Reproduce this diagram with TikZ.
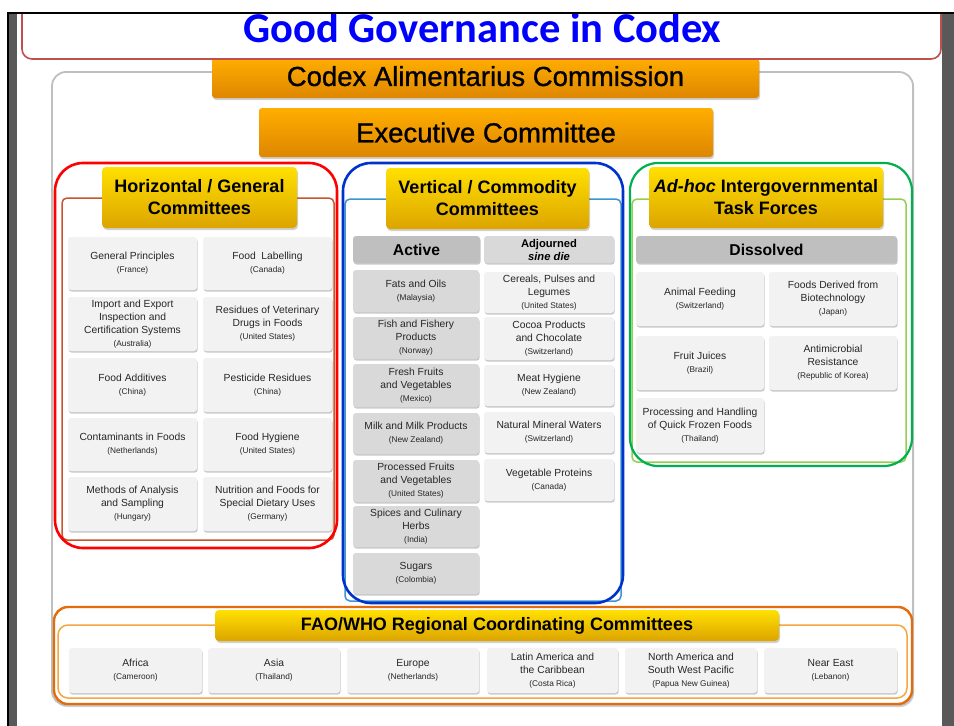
\documentclass[tikz,border=0pt]{standalone}
\usepackage{fontspec}
\setmainfont{Liberation Sans}
\newfontfamily\titlefont{Carlito}
\newfontfamily\heavyfont[FakeBold=1.0]{Liberation Sans}
\usetikzlibrary{shadows}
\definecolor{cellL}{HTML}{F2F2F2}
\definecolor{cellM}{HTML}{D9D9D9}
\definecolor{cellD}{HTML}{BFBFBF}
\definecolor{txt}{HTML}{262626}
\definecolor{goldT}{HTML}{FFE000}
\definecolor{goldB}{HTML}{DCA400}
\definecolor{orT}{HTML}{FFAE00}
\definecolor{orB}{HTML}{DE8600}
\definecolor{frameG}{HTML}{595959}
\definecolor{titleR}{HTML}{C0504D}
\definecolor{hRed}{HTML}{FF0000}
\definecolor{hRedIn}{HTML}{C8562E}
\definecolor{vBlue}{HTML}{0033CC}
\definecolor{vBlueIn}{HTML}{3D94D0}
\definecolor{aGreen}{HTML}{00B050}
\definecolor{aGreenIn}{HTML}{92D050}
\definecolor{rOr}{HTML}{E46C0A}
\definecolor{rOrIn}{HTML}{F4A641}
\definecolor{mainGrey}{HTML}{BFBFBF}
\definecolor{titleBlue}{HTML}{0000FF}
\newcommand\Cell[7]{\node[#2, minimum width={(#5-#3)*1pt}, minimum height={(#6-#4)*1pt}] (#1) at ({(#3+#5)/2},{(#4+#6)/2}) {#7};}
\newcommand\ctry[1]{\\{\fontsize{8.3}{13}\selectfont(#1)}}
\tikzset{
  cellbase/.style={draw=none, rounded corners=3pt, align=center, inner sep=1pt, text=txt,
    font=\fontsize{10.3}{13}\selectfont,
    drop shadow={shadow xshift=0.7pt, shadow yshift=-1.6pt, opacity=0.35, fill=black!60}},
  cell/.style={cellbase, fill=cellL},
  cellm/.style={cellbase, fill=cellM},
  bar/.style={cellbase, fill=cellD, font=\bfseries\fontsize{15.7}{17}\selectfont, text=black},
  barl/.style={cellbase, fill=cellM, font=\bfseries\fontsize{11.2}{13}\selectfont, text=black},
  header/.style={rounded corners=4pt, top color=goldT, bottom color=goldB, align=center, inner sep=1pt,
    font=\bfseries\fontsize{18}{22}\selectfont, text=black,
    drop shadow={shadow xshift=1pt, shadow yshift=-2pt, opacity=0.3, fill=black!60}},
  orbox/.style={rounded corners=3pt, top color=orT, bottom color=orB, align=center, inner sep=1pt, text=black,
    drop shadow={shadow xshift=1pt, shadow yshift=-2pt, opacity=0.3, fill=black!60}},
  inbox/.style={line width=1.5pt, rounded corners=5pt, fill=white},
  outbox/.style={line width=2.6pt, rounded corners=28pt},
}
\begin{document}
\begin{tikzpicture}[x=1pt, y=-1pt]
\useasboundingbox (0,0) rectangle (954,726);
\fill[white] (0,0) rectangle (954,726);
% main grey box
\draw[mainGrey, line width=1.8pt, rounded corners=14pt, fill=white,
  drop shadow={shadow xshift=1.2pt, shadow yshift=-2pt, opacity=0.35, fill=black!50}]
  (52,72) rectangle (913,705);
% Codex box
\Cell{codex}{orbox, font=\heavyfont\fontsize{27.5}{30}\selectfont}{212}{58}{759}{98}{\raisebox{4pt}{Codex Alimentarius Commission}}
% Title box (top cut by frame)
\begin{scope}
\clip (17,14) rectangle (942,726);
\draw[titleR, line width=1.6pt, rounded corners=10pt, fill=white] (22,-20) rectangle (941,59);
\end{scope}
\node[font=\titlefont\bfseries\fontsize{42.5}{46}\selectfont, text=titleBlue, anchor=base, inner sep=0pt] (title) at (482.5,42) {Good Governance in Codex};
% Executive
\Cell{exec}{orbox, font=\heavyfont\fontsize{27.5}{30}\selectfont}{259}{108}{713}{157}{Executive Committee}

% ---------- Horizontal ----------
\draw[hRedIn, inbox] (62,198) rectangle (334,540);
\Cell{hhead}{header}{102}{167}{297}{228}{Horizontal / General\\Committees}
\Cell{h11}{cell}{68}{237}{197}{290}{General Principles\ctry{France}}
\Cell{h12}{cell}{203}{237}{332}{290}{Food\ \ Labelling\ctry{Canada}}
\Cell{h21}{cell}{68}{297}{197}{351}{Import and Export\\Inspection and\\Certification Systems\ctry{Australia}}
\Cell{h22}{cell}{203}{297}{332}{351}{Residues of Veterinary\\Drugs in Foods\ctry{United States}}
\Cell{h31}{cell}{68}{358}{197}{412}{Food Additives\ctry{China}}
\Cell{h32}{cell}{203}{358}{332}{412}{Pesticide Residues\ctry{China}}
\Cell{h41}{cell}{68}{418}{197}{471}{Contaminants in Foods\ctry{Netherlands}}
\Cell{h42}{cell}{203}{418}{332}{471}{Food Hygiene\ctry{United States}}
\Cell{h51}{cell}{68}{477}{197}{531}{Methods of Analysis\\and Sampling\ctry{Hungary}}
\Cell{h52}{cell}{203}{477}{332}{531}{Nutrition and Foods for\\Special Dietary Uses\ctry{Germany}}
\draw[hRed, outbox] (55,163) rectangle (337,548);

% ---------- Vertical ----------
\draw[vBlueIn, inbox] (345,199) rectangle (621,601);
\Cell{vhead}{header}{386}{168}{589}{229}{Vertical / Commodity\\Committees}
\Cell{vact}{bar}{353}{236}{480}{263}{Active}
\Cell{vadj}{barl}{484}{236}{614}{263}{Adjourned\\\textit{sine die}}
\Cell{va1}{cellm}{353}{270}{479}{312}{Fats and Oils\ctry{Malaysia}}
\Cell{va2}{cellm}{353}{317}{479}{359}{Fish and Fishery\\Products\ctry{Norway}}
\Cell{va3}{cellm}{353}{364}{479}{407}{Fresh Fruits\\and Vegetables\ctry{Mexico}}
\Cell{va4}{cellm}{353}{413}{479}{454}{Milk and Milk Products\ctry{New Zealand}}
\Cell{va5}{cellm}{353}{460}{479}{502}{Processed Fruits\\and Vegetables\ctry{United States}}
\Cell{va6}{cellm}{353}{506}{479}{547}{Spices and Culinary\\Herbs\ctry{India}}
\Cell{va7}{cellm}{353}{553}{479}{594}{Sugars\ctry{Colombia}}
\Cell{vd1}{cell}{484}{272}{614}{313}{Cereals, Pulses and\\Legumes\ctry{United States}}
\Cell{vd2}{cell}{484}{317}{614}{360}{Cocoa Products\\and Chocolate\ctry{Switzerland}}
\Cell{vd3}{cell}{484}{365}{614}{406}{Meat Hygiene\ctry{New Zealand}}
\Cell{vd4}{cell}{484}{412}{614}{453}{Natural Mineral Waters\ctry{Switzerland}}
\Cell{vd5}{cell}{484}{459}{614}{501}{Vegetable Proteins\ctry{Canada}}
\draw[vBlue, outbox] (343,163) rectangle (623,603);

% ---------- Ad-hoc ----------
\draw[aGreenIn, inbox] (632,199) rectangle (906,462);
\Cell{ahead}{header}{649}{167}{883}{228}{\textit{Ad-hoc} Intergovernmental\\Task Forces}
\Cell{adis}{bar}{636}{236}{897}{263}{Dissolved}
\Cell{a11}{cell}{636}{272}{764}{326}{Animal Feeding\ctry{Switzerland}}
\Cell{a12}{cell}{769}{272}{897}{326}{Foods Derived from\\Biotechnology\ctry{Japan}}
\Cell{a21}{cell}{636}{336}{764}{390}{Fruit Juices\ctry{Brazil}}
\Cell{a22}{cell}{769}{336}{897}{390}{Antimicrobial\\Resistance\ctry{Republic of Korea}}
\Cell{a31}{cell}{636}{398}{764}{453}{Processing and Handling\\of Quick Frozen Foods\ctry{Thailand}}
\draw[aGreen, line width=2.2pt, rounded corners=28pt] (630,163) rectangle (912,466);

% ---------- Regional ----------
\draw[rOr, line width=2.4pt, rounded corners=14pt, fill=white] (54,607) rectangle (912,704);
\draw[rOrIn, line width=1.5pt, rounded corners=10pt] (58,625) rectangle (907,698);
\Cell{rhead}{header}{215}{610}{779}{641}{FAO/WHO Regional Coordinating Committees}
\Cell{r1}{cell}{69}{648}{202}{693}{Africa\ctry{Cameroon}}
\Cell{r2}{cell}{208}{648}{340}{693}{Asia\ctry{Thailand}}
\Cell{r3}{cell}{347}{648}{479}{693}{Europe\ctry{Netherlands}}
\Cell{r4}{cell}{487}{648}{618}{693}{Latin America and\\the Caribbean\ctry{Costa Rica}}
\Cell{r5}{cell}{625}{648}{757}{693}{North America and\\South West Pacific\ctry{Papua New Guinea}}
\Cell{r6}{cell}{764}{648}{897}{693}{Near East\ctry{Lebanon}}

% ---------- frame ----------
\fill[black] (7,12) rectangle (954,14);
\fill[black] (7,12) rectangle (9,726);
\fill[frameG] (9,14) rectangle (17,726);
\fill[frameG] (942,14) rectangle (954,726);
\end{tikzpicture}
\end{document}
